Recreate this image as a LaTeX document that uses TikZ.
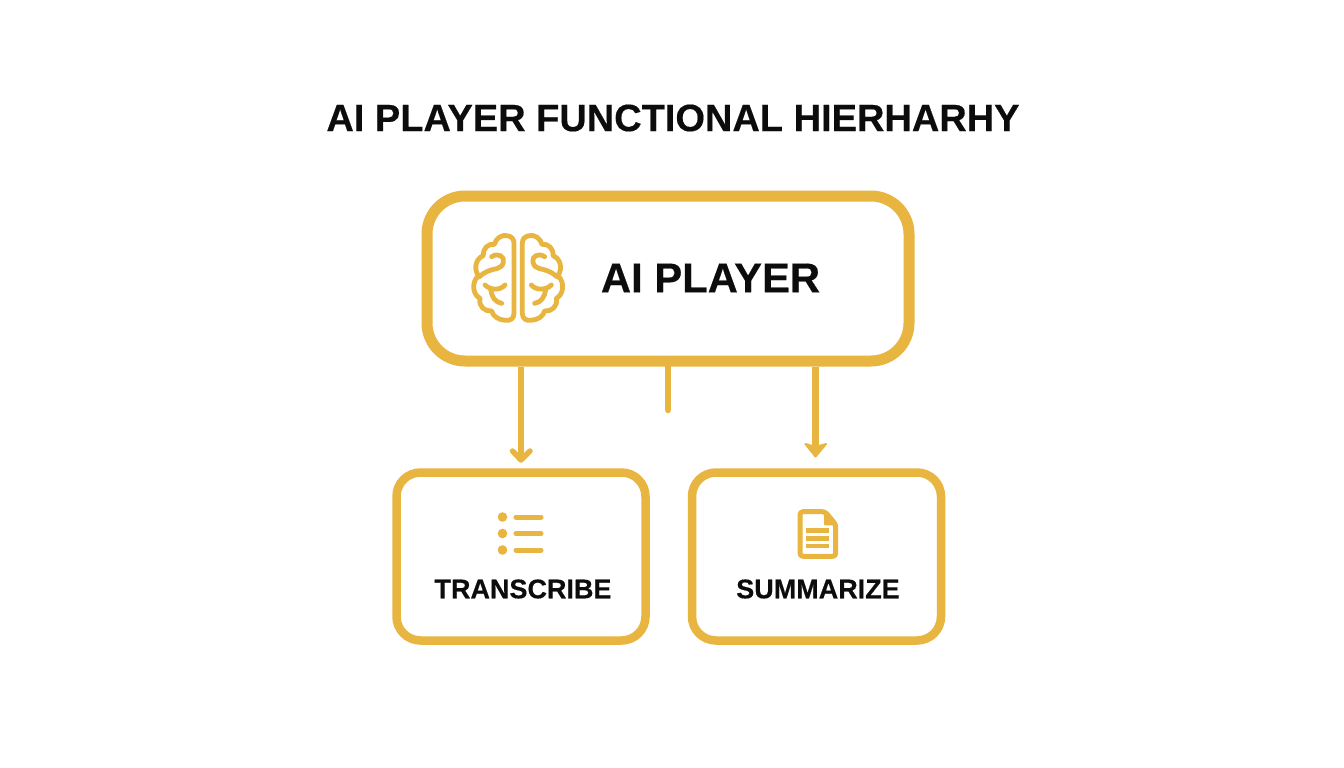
\documentclass[tikz,border=0pt]{standalone}
\usepackage{fontspec}
\setmainfont{Liberation Sans}[BoldFeatures={FakeBold=0.4}]
\definecolor{gold}{HTML}{E8B540}
\definecolor{ink}{HTML}{0C0C0C}
\tikzset{
  bigbox/.style={draw=gold,line width=11pt,rounded corners=38pt,fill=white,minimum width=482pt,minimum height=165pt,inner sep=0pt},
  subbox/.style={draw=gold,line width=8.5pt,rounded corners=24pt,fill=white,minimum width=249pt,minimum height=168pt,inner sep=0pt},
  conn/.style={draw=gold,line width=6.5pt},
  head/.style={draw=gold,line width=5.5pt,line cap=round,line join=round},
  icon/.style={draw=gold,line width=4.8pt,line cap=round,line join=round},
  titletext/.style={text=ink,font=\bfseries\fontsize{38}{40}\selectfont,inner sep=0pt},
  maintext/.style={text=ink,font=\bfseries\fontsize{41.8}{44}\selectfont,inner sep=0pt},
  subtext/.style={text=ink,font=\bfseries\fontsize{27}{29}\selectfont,inner sep=0pt},
}
\begin{document}
\begin{tikzpicture}[x=1pt,y=-1pt]
\useasboundingbox (0,0) rectangle (1344,768);
\fill[white] (0,0) rectangle (1344,768);
\node[titletext] (title) at (673,118) {AI PLAYER FUNCTIONAL HIERHARHY};
\node[bigbox] (main) at (668,278.5) {};
\node[subbox] (tr) at (521,556.5) {};
\node[subbox] (su) at (816.5,556.5) {};
\node[maintext] (mainlabel) at (710.5,278) {AI PLAYER};
\node[subtext] (trlabel) at (523,589) {TRANSCRIBE};
\node[subtext] (sulabel) at (818,589) {SUMMARIZE};
% connectors
\coordinate (a1) at (521,460);
\coordinate (a2) at (815.5,452);
\coordinate (a3) at (668,410);
\draw[conn] (main.south -| a1) -- (a1);
\draw[conn] (main.south -| a2) -- (a2);
\draw[conn,line cap=round] (main.south -| a3) -- (a3);
\draw[head] (512.5,451) -- (a1) -- (530,451);
\fill[gold,draw=gold,line width=2pt,line join=round] (805.5,444) -- (815.5,447) -- (826,444) -- (815.5,456.5) -- cycle;
% brain
\begin{scope}[shift={(450,215)},x=0.3333pt,y=-0.3333pt]
\foreach \m/\o in {1/0,-1/-136.33}{
\begin{scope}[xscale=\m,xshift=\o pt]
\draw[icon] (192,85) -- (192,295) .. controls (192,312) and (180,318) .. (165,316) .. controls (145,314) and (130,305) .. (125,288) .. controls (105,290) and (85,275) .. (90,250) .. controls (70,240) and (62,205) .. (85,182) .. controls (70,160) and (78,130) .. (100,122) .. controls (98,100) and (115,85) .. (133,88) .. controls (138,70) and (155,58) .. (172,62) .. controls (185,65) and (192,72) .. (192,85) -- cycle;
\draw[icon] (125,125) .. controls (145,112) and (165,125) .. (160,142) .. controls (155,165) and (130,160) .. (115,168) .. controls (105,172) and (95,178) .. (87,186);
\draw[icon] (105,210) .. controls (120,225) and (150,228) .. (165,210);
\draw[icon] (122,224) .. controls (125,245) and (135,262) .. (155,265);
\end{scope}}
\end{scope}
% list icon
\foreach \yy in {517,533.5,550}{
  \fill[gold] (502.5,\yy) circle (4.8pt);
  \draw[gold,line width=5pt,line cap=round] (516,\yy) -- (541,\yy);
}
% document icon
\begin{scope}[shift={(780,495)},x=0.3333pt,y=-0.3333pt]
\draw[gold,line width=5pt,line join=round,rounded corners=3pt] (135,50) -- (60,50) -- (60,184) -- (167,184) -- (167,88) -- cycle;
\fill[gold,draw=gold,line width=2pt,line join=round] (135,50) -- (170,88) -- (135,88) -- cycle;
\foreach \yy in {107,130,153}{\draw[gold,line width=4.4pt] (78,\yy) -- (148,\yy);}
\end{scope}
\end{tikzpicture}
\end{document}
